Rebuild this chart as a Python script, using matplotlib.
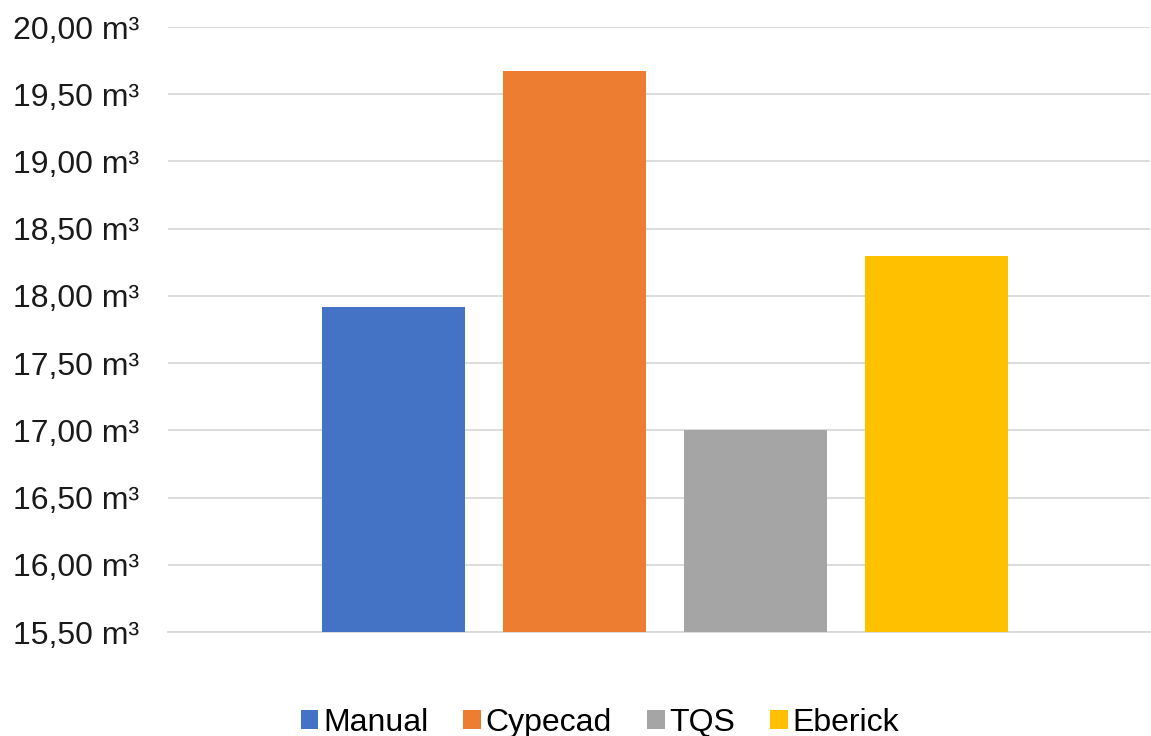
import numpy as np
import matplotlib.pyplot as plt
from matplotlib.ticker import FuncFormatter, MultipleLocator

plt.rcParams['font.family'] = ['Liberation Sans', 'DejaVu Sans']

series = ['Manual', 'Cypecad', 'TQS', 'Eberick']
volumes = [17.92, 19.67, 17.00, 18.30]
colors = ['#4472c4', '#ed7d31', '#a5a5a5', '#ffc000']

fig = plt.figure(figsize=(11.51, 7.36), dpi=100)
ax = fig.add_axes([0.146, 0.1413, 0.853, 0.822])

offsets = np.arange(len(series)) - 1.5
for off, v, c, name in zip(offsets, volumes, colors, series):
    ax.bar(off, v - 15.5, bottom=15.5, width=0.79, color=c, label=name, zorder=3)

ax.set_ylim(15.5, 20.0)
ax.set_xlim(-2.746, 2.68)
ax.yaxis.set_major_locator(MultipleLocator(0.5))
ax.yaxis.set_major_formatter(FuncFormatter(lambda y, _: f"{y:.2f}".replace('.', ',') + " m³"))
ax.grid(axis='y', color='#d9d9d9', linewidth=1.3, zorder=0)
ax.set_xticks([])
for s in ['top', 'right', 'left']:
    ax.spines[s].set_visible(False)
ax.spines['bottom'].set_color('#d9d9d9')
ax.spines['bottom'].set_linewidth(1.3)
ax.tick_params(axis='y', length=0, pad=21, labelsize=23, labelcolor='#1a1a1a')

fig.legend(loc='center', bbox_to_anchor=(600 / 1151, 1 - 723 / 736), ncol=4,
           frameon=False, fontsize=23, handlelength=0.55, handleheight=0.55,
           handletextpad=0.15, columnspacing=1.1)

fig.savefig('out.png', dpi=100)
